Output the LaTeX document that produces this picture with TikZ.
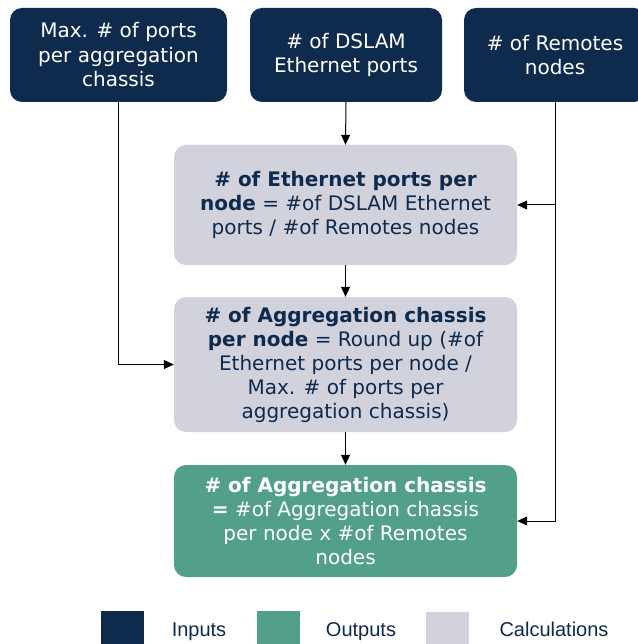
\documentclass[tikz,border=0pt]{standalone}
\usepackage{fontspec}
\setmainfont{DejaVu Sans}
\newfontfamily\legendfont{Liberation Sans}
\usetikzlibrary{arrows.meta}
\definecolor{navy}{HTML}{0E2A4D}
\definecolor{teal}{HTML}{52A08C}
\definecolor{calcgrey}{HTML}{D2D2DC}
\tikzset{
  inbox/.style={fill=navy,rounded corners=12pt,text=white,align=center,
    font=\fontsize{20}{24.5}\selectfont,minimum height=94pt},
  calcbox/.style={fill=calcgrey,rounded corners=12pt,text=navy,align=center,
    font=\fontsize{20}{24}\selectfont,minimum width=343pt},
  outbox/.style={fill=teal,rounded corners=12pt,text=white,align=center,
    font=\fontsize{20}{24}\selectfont,minimum width=343pt},
  arr/.style={-{Triangle[length=10pt,width=9pt]},line width=1pt},
  key/.style={minimum width=43pt,minimum height=33pt,inner sep=0pt},
  keytext/.style={font=\legendfont\fontsize{20}{24}\selectfont,text=navy,anchor=base}
}
\begin{document}
\begin{tikzpicture}[x=1pt,y=-1pt]
\useasboundingbox (0,0) rectangle (637,644);
% inputs
\node(maxports) at (118.5,55)[inbox,minimum width=217pt] {Max. \# of ports\\per aggregation\\chassis};
\node(dslam)    at (346,55)[inbox,minimum width=192pt]   {\# of DSLAM\\Ethernet ports};
\node(remotes)  at (555,55)[inbox,minimum width=182pt]   {\# of Remotes\\nodes};
% calculations
\node(ethport)  at (345.5,205)[calcbox,minimum height=120pt]
  {\textbf{\# of Ethernet ports per}\\\textbf{node} = \#of DSLAM Ethernet\\ports / \#of Remotes nodes};
\node(aggnode)  at (345.5,364.5)[calcbox,minimum height=135pt]
  {\textbf{\# of Aggregation chassis}\\\textbf{per node} = Round up (\#of\\Ethernet ports per node /\\Max. \# of ports per\\aggregation chassis)};
% output
\node(aggtotal) at (345.5,521)[outbox,minimum height=112pt]
  {\textbf{\# of Aggregation chassis}\\\textbf{=} \#of Aggregation chassis\\per node x \#of Remotes\\nodes};
\coordinate(branch) at (remotes.south |- ethport.east);
\draw[arr] (dslam.south) -- (ethport.north);
\draw[arr] (ethport.south) -- (aggnode.north);
\draw[arr] (aggnode.south) -- (aggtotal.north);
\draw[arr] (maxports.south) |- (aggnode.west);
\draw[arr] (remotes.south) |- (aggtotal.east);
\draw[arr] (branch) -- (ethport.east);
% legend
\node(keyin)   at (122.5,627.5)[key,fill=navy] {};
\node(keyout)  at (278.5,627.5)[key,fill=teal] {};
\node(keycalc) at (447.5,628)[key,fill=calcgrey] {};
\node(txtin)   at (199,636)[keytext] {Inputs};
\node(txtout)  at (361,636)[keytext] {Outputs};
\node(txtcalc) at (554,636)[keytext] {Calculations};
\end{tikzpicture}
\end{document}
